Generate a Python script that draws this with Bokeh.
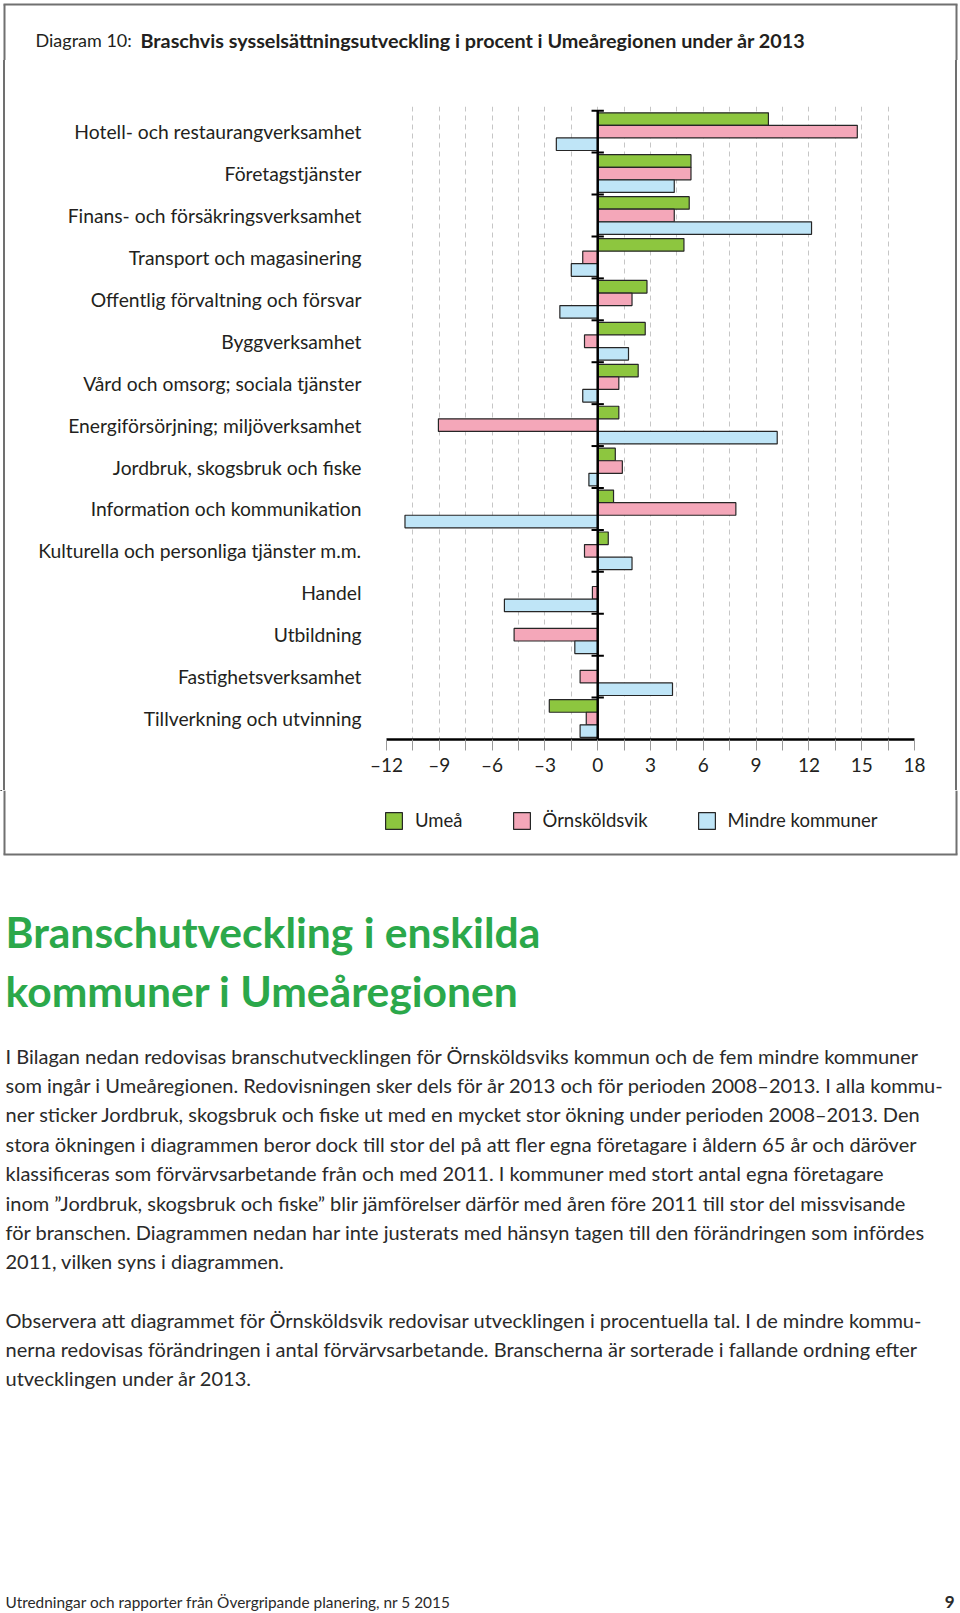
from bokeh.plotting import figure
from bokeh.models import Range1d, FixedTicker, Legend, LegendItem
from bokeh.layouts import column
from bokeh.embed import file_html
from bokeh.resources import INLINE
from bokeh.core.properties import value

# ---------------- data ----------------
categories = [
    "Hotell- och restaurangverksamhet",
    "Företagstjänster",
    "Finans- och försäkringsverksamhet",
    "Transport och magasinering",
    "Offentlig förvaltning och försvar",
    "Byggverksamhet",
    "Vård och omsorg; sociala tjänster",
    "Energiförsörjning; miljöverksamhet",
    "Jordbruk, skogsbruk och fiske",
    "Information och kommunikation",
    "Kulturella och personliga tjänster m.m.",
    "Handel",
    "Utbildning",
    "Fastighetsverksamhet",
    "Tillverkning och utvinning",
]
umea = [9.7, 5.3, 5.2, 4.9, 2.8, 2.7, 2.3, 1.2, 1.0, 0.9, 0.6, 0.0, 0.0, 0.0, -2.75]
ornskoldsvik = [14.75, 5.3, 4.35, -0.85, 1.95, -0.75, 1.2, -9.05, 1.4, 7.85, -0.75, -0.3, -4.75, -1.0, -0.65]
mindre_kommuner = [-2.35, 4.35, 12.15, -1.5, -2.15, 1.75, -0.85, 10.2, -0.5, -10.95, 1.95, -5.3, -1.3, 4.25, -1.0]
series_names = ["Umeå", "Örnsköldsvik", "Mindre kommuner"]

x_ticks = [-12, -9, -6, -3, 0, 3, 6, 9, 12, 15, 18]
x_tick_labels = ["–12", "–9", "–6", "–3", "0", "3", "6", "9", "12", "15", "18"]
x_minor_ticks = [-10.5, -7.5, -4.5, -1.5, 1.5, 4.5, 7.5, 10.5, 13.5, 16.5]

title_prefix = "Diagram 10: "
title_main = "Braschvis sysselsättningsutveckling i procent i Umeåregionen under år 2013"

heading_lines = ["Branschutveckling i enskilda", "kommuner i Umeåregionen"]
para1_lines = [
    "I Bilagan nedan redovisas branschutvecklingen för Örnsköldsviks kommun och de fem mindre kommuner",
    "som ingår i Umeåregionen. Redovisningen sker dels för år 2013 och för perioden 2008–2013. I alla kommu-",
    "ner sticker Jordbruk, skogsbruk och fiske ut med en mycket stor ökning under perioden 2008–2013. Den",
    "stora ökningen i diagrammen beror dock till stor del på att fler egna företagare i åldern 65 år och däröver",
    "klassificeras som förvärvsarbetande från och med 2011. I kommuner med stort antal egna företagare",
    "inom ”Jordbruk, skogsbruk och fiske” blir jämförelser därför med åren före 2011 till stor del missvisande",
    "för branschen. Diagrammen nedan har inte justerats med hänsyn tagen till den förändringen som infördes",
    "2011, vilken syns i diagrammen.",
]
para2_lines = [
    "Observera att diagrammet för Örnsköldsvik redovisar utvecklingen i procentuella tal. I de mindre kommu-",
    "nerna redovisas förändringen i antal förvärvsarbetande. Branscherna är sorterade i fallande ordning efter",
    "utvecklingen under år 2013.",
]
footer_text = "Utredningar och rapporter från Övergripande planering, nr 5 2015"
page_number = "9"

# ---------------- layout (page pixels) ----------------
W = 960
TITLE_BOTTOM = 60
FRAME_L, FRAME_R, FRAME_T, FRAME_B = 386, 914, 106, 739
CHART_BOTTOM = 790
LEGEND_BOTTOM = 858
PAGE_BOTTOM = 1612
BOX_L, BOX_R, BOX_T, BOX_B = 4, 956, 4, 854
BORDER = "#707070"

TXT = "#231f20"
FONT = "Lato"
colors = ["#8dc63f", "#f4a7b9", "#bfe5f7"]
bar_line = "#262626"
offsets = [0.2, 0.5, 0.8]


def text_canvas(top, bottom):
    f = figure(width=W, height=bottom - top,
               x_range=Range1d(0, W), y_range=Range1d(bottom, top),
               x_axis_location=None, y_axis_location=None,
               min_border=0, min_border_left=0, min_border_right=0,
               min_border_top=0, min_border_bottom=0,
               output_backend="svg", toolbar_location=None)
    f.outline_line_color = None
    f.grid.visible = False
    f.frame_align = False
    return f


# ---------------- title (with top part of the frame box) ----------------
tf = text_canvas(0, TITLE_BOTTOM)
tf.segment(x0=[BOX_L - 1, BOX_L, BOX_R], y0=[BOX_T, BOX_T, BOX_T],
           x1=[BOX_R + 1, BOX_L, BOX_R], y1=[BOX_T, TITLE_BOTTOM, TITLE_BOTTOM],
           line_color=BORDER, line_width=2)
tf.text(x=[35], y=[39], text=[title_prefix], text_font=value(FONT), text_font_size="18px",
        text_color=TXT, text_baseline="middle")
tf.text(x=[140], y=[39], text=[title_main], text_font=value(FONT), text_font_size="19.8px",
        text_font_style="bold", text_color=TXT, text_baseline="middle")

# ---------------- chart ----------------
n = len(categories)
CH_L, CH_R = BOX_L + 1, BOX_R - 1
p = figure(
    frame_width=FRAME_R - FRAME_L, frame_height=FRAME_B - FRAME_T,
    min_border_left=FRAME_L - CH_L, min_border_right=CH_R - FRAME_R,
    min_border_top=FRAME_T - TITLE_BOTTOM, min_border_bottom=CHART_BOTTOM - FRAME_B,
    x_range=Range1d(x_ticks[0], x_ticks[-1]), y_range=Range1d(n, -0.1),
    output_backend="svg", toolbar_location=None,
)
p.margin = (0, 0, 0, CH_L)
p.frame_align = False
p.outline_line_color = None
p.styles = {"box-shadow": "-2px 0 0 0 %s, 2px 0 0 0 %s" % (BORDER, BORDER)}

p.ygrid.grid_line_color = None
p.xgrid.grid_line_color = "#c6c6c6"
p.xgrid.grid_line_dash = "5 4"
p.xgrid.minor_grid_line_color = "#c6c6c6"
p.xgrid.minor_grid_line_dash = "5 4"

xa = p.xaxis[0]
xa.ticker = FixedTicker(ticks=x_ticks, minor_ticks=x_minor_ticks)
xa.major_label_overrides = dict(zip(x_ticks, x_tick_labels))
xa.axis_line_color = "black"
xa.axis_line_width = 2.5
xa.major_tick_in = 0
xa.major_tick_out = 11
xa.minor_tick_in = 0
xa.minor_tick_out = 11
xa.major_tick_line_color = "#9a9a9a"
xa.minor_tick_line_color = "#9a9a9a"
xa.major_label_standoff = 2
xa.major_label_text_font = FONT
xa.major_label_text_font_size = "19px"
xa.major_label_text_color = TXT

ya = p.yaxis[0]
ya.ticker = FixedTicker(ticks=[i + 0.5 for i in range(n)])
ya.major_label_overrides = {i + 0.5: c for i, c in enumerate(categories)}
ya.axis_line_color = None
ya.major_tick_line_color = None
ya.minor_tick_line_color = None
ya.major_tick_in = 0
ya.major_tick_out = 0
ya.major_label_standoff = 25
ya.major_label_text_font = FONT
ya.major_label_text_font_size = "19.3px"
ya.major_label_text_color = TXT

for vals, off, col in zip([umea, ornskoldsvik, mindre_kommuner], offsets, colors):
    ys = [i + off for i in range(n)]
    p.hbar(y=ys, left=0, right=vals, height=0.3, fill_color=col,
           line_color=bar_line, line_width=1.2)

idx = list(range(n))
p.segment(x0=0, y0=0, x1=0, y1=n, line_color="black", line_width=2.5)
p.segment(x0=-0.35, x1=0.35, y0=idx, y1=idx, line_color="black", line_width=2)

# ---------------- legend row (with bottom part of the frame box) ----------------
lf = text_canvas(CHART_BOTTOM, LEGEND_BOTTOM)
lf.segment(x0=[BOX_L, BOX_R, BOX_L - 1], y0=[CHART_BOTTOM, CHART_BOTTOM, BOX_B],
           x1=[BOX_L, BOX_R, BOX_R + 1], y1=[BOX_B, BOX_B, BOX_B],
           line_color=BORDER, line_width=2)
# legend key proxies (kept off-canvas; only their swatches are shown in the legend)
proxies = [lf.hbar(y=[-1000], left=[0], right=[1], height=1, fill_color=col,
                   line_color=bar_line, line_width=1.2) for col in colors]
legend = Legend(
    items=[LegendItem(label=nm, renderers=[r]) for nm, r in zip(series_names, proxies)],
    orientation="horizontal", location=(383, 27),
    glyph_width=21, glyph_height=21, label_standoff=11, spacing=48,
    padding=0, margin=0, border_line_color=None, background_fill_alpha=0,
    label_text_font=FONT, label_text_font_size="18.5px", label_text_color=TXT,
)
lf.add_layout(legend)

# ---------------- text section ----------------
t = text_canvas(LEGEND_BOTTOM, PAGE_BOTTOM)
t.text(x=[5] * len(heading_lines), y=[931 + 59 * k for k in range(len(heading_lines))],
       text=heading_lines, text_font=value(FONT), text_font_style="bold",
       text_font_size="42.6px", text_color="#2ba84a", text_baseline="middle")

LS = 29.4
t.text(x=[5] * len(para1_lines), y=[1055 + LS * k for k in range(len(para1_lines))],
       text=para1_lines, text_font=value(FONT), text_font_size="20px",
       text_color="#2a2a2a", text_baseline="middle")
t.text(x=[5] * len(para2_lines), y=[1319 + LS * k for k in range(len(para2_lines))],
       text=para2_lines, text_font=value(FONT), text_font_size="20px",
       text_color="#2a2a2a", text_baseline="middle")

t.text(x=[5], y=[1601], text=[footer_text], text_font=value(FONT), text_font_size="15.4px",
       text_color="#2a2a2a", text_baseline="middle")
t.text(x=[954], y=[1601], text=[page_number], text_font=value(FONT), text_font_size="17px",
       text_font_style="bold", text_align="right", text_color="#2a2a2a", text_baseline="middle")

layout = column(tf, p, lf, t, spacing=0)

open("out.html", "w").write(file_html(layout, INLINE))
